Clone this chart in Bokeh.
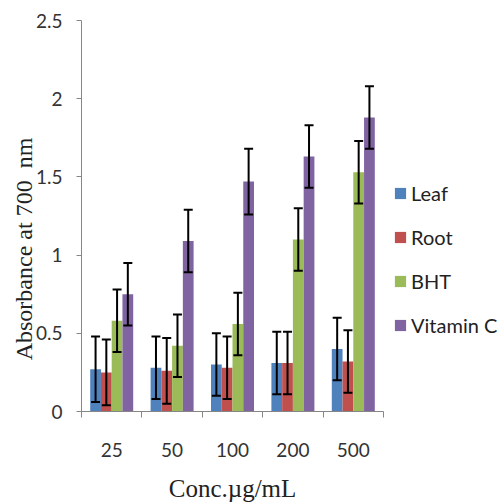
from bokeh.plotting import figure
from bokeh.layouts import row
from bokeh.models import (Range1d, FixedTicker, ColumnDataSource, Whisker, TeeHead,
                          Legend, LegendItem)
from bokeh.embed import file_html
from bokeh.resources import INLINE

categories = ["25", "50", "100", "200", "500"]
series_names = ["Leaf", "Root", "BHT", "Vitamin C"]
leaf = [0.27, 0.28, 0.30, 0.31, 0.40]
root = [0.25, 0.26, 0.28, 0.31, 0.32]
bht = [0.58, 0.42, 0.56, 1.10, 1.53]
vitc = [0.75, 1.09, 1.47, 1.63, 1.88]
leaf_err = [0.21, 0.20, 0.20, 0.20, 0.20]
root_err = [0.21, 0.21, 0.20, 0.20, 0.20]
bht_err = [0.20, 0.20, 0.20, 0.20, 0.20]
vitc_err = [0.20, 0.20, 0.21, 0.20, 0.20]
y_ticks = [0, 0.5, 1, 1.5, 2, 2.5]
y_tick_labels = ["0", "0.5", "1", "1.5", "2", "2.5"]

colors = ["#4F81BD", "#C0504D", "#9BBB59", "#8064A2"]
values = [leaf, root, bht, vitc]
errors = [leaf_err, root_err, bht_err, vitc_err]

p = figure(width=385, height=504, output_backend="svg", toolbar_location=None,
           x_range=Range1d(0, len(categories)), y_range=Range1d(0, 2.5),
           min_border_left=81, min_border_right=2, min_border_top=20, min_border_bottom=92)
p.grid.visible = False
p.outline_line_color = None
p.background_fill_color = "white"
p.border_fill_color = "white"

bw = 0.178
offsets = [-1.5 * bw, -0.5 * bw, 0.5 * bw, 1.5 * bw]
for name, col, vals, errs, off in zip(series_names, colors, values, errors, offsets):
    xs = [i + 0.5 + off for i in range(len(categories))]
    src = ColumnDataSource(dict(x=xs, top=vals,
                                upper=[v + e for v, e in zip(vals, errs)],
                                lower=[v - e for v, e in zip(vals, errs)]))
    p.vbar(x="x", top="top", width=bw, source=src, fill_color=col, line_color=None)
    p.add_layout(Whisker(source=src, base="x", upper="upper", lower="lower",
                         level="overlay", line_color="black", line_width=2,
                         upper_head=TeeHead(size=9, line_color="black", line_width=2),
                         lower_head=TeeHead(size=9, line_color="black", line_width=2)))

# axes
xa = p.xaxis[0]
xa.ticker = FixedTicker(ticks=[i + 0.5 for i in range(len(categories))],
                        minor_ticks=list(range(len(categories) + 1)))
xa.major_label_overrides = {i + 0.5: c for i, c in enumerate(categories)}
xa.major_tick_line_color = None
xa.minor_tick_line_color = "#868686"
xa.minor_tick_in = 0
xa.minor_tick_out = 6
xa.axis_line_color = "#868686"
xa.major_label_standoff = 25
xa.major_label_text_font = "Lato"
xa.major_label_text_font_size = "19px"
xa.major_label_text_color = "#333333"
xa.axis_label = "Conc.µg/mL"
xa.axis_label_text_font = "Liberation Serif"
xa.axis_label_text_font_style = "normal"
xa.axis_label_text_font_size = "25px"
xa.axis_label_text_color = "#222222"
xa.axis_label_standoff = 15

ya = p.yaxis[0]
ya.ticker = FixedTicker(ticks=y_ticks)
ya.major_label_overrides = {t: l for t, l in zip(y_ticks, y_tick_labels)}
ya.minor_tick_line_color = None
ya.major_tick_line_color = "#868686"
ya.major_tick_in = 0
ya.major_tick_out = 5
ya.axis_line_color = "#868686"
ya.major_label_standoff = 14
ya.major_label_text_font = "Lato"
ya.major_label_text_font_size = "19px"
ya.major_label_text_color = "#333333"
ya.axis_label = "Absorbance at 700\u00a0\u00a0nm" + "\u00a0" * 11
ya.axis_label_text_font = "Liberation Serif"
ya.axis_label_text_font_style = "normal"
ya.axis_label_text_font_size = "24px"
ya.axis_label_text_color = "#222222"
ya.axis_label_standoff = -4

# legend panel (swatch renderers sit outside the visible range)
q = figure(width=113, height=504, output_backend="svg", toolbar_location=None,
           x_range=Range1d(0, 1), y_range=Range1d(0, 1),
           x_axis_location=None, y_axis_location=None,
           min_border_left=0, min_border_right=0, min_border_top=0, min_border_bottom=0)
q.grid.visible = False
q.outline_line_color = None
q.border_fill_color = "white"
items = []
for name, col in zip(series_names, colors):
    r = q.quad(left=[-10], right=[-9], bottom=[0], top=[1], fill_color=col, line_color=None)
    items.append(LegendItem(label=name, renderers=[r]))
legend = Legend(items=items, location=(8, 74), orientation="vertical",
                glyph_width=14, glyph_height=14, label_height=24, spacing=20,
                label_standoff=4, padding=0, margin=0,
                border_line_color=None, background_fill_alpha=0,
                label_text_font="Lato", label_text_font_size="20px",
                label_text_color="#222222")
q.add_layout(legend, "center")

layout = row(p, q, spacing=0)
open("out.html", "w").write(file_html(layout, INLINE))
